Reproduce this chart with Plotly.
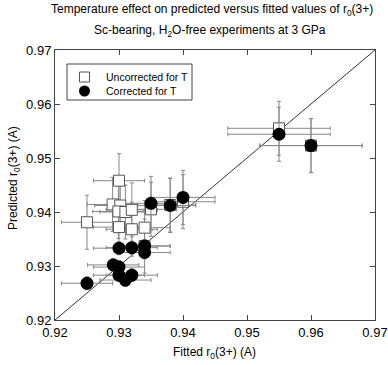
import plotly.graph_objects as go

# Uncorrected for T (open squares)
unc_x = [0.925, 0.930, 0.929, 0.9302, 0.9299, 0.930, 0.931, 0.932, 0.932, 0.934, 0.934, 0.935, 0.938, 0.940, 0.955, 0.960]
unc_y = [0.9381, 0.9458, 0.9414, 0.9412, 0.9401, 0.9372, 0.9400, 0.9404, 0.9368, 0.9371, 0.9337, 0.9405, 0.9413, 0.9419, 0.9555, 0.9523]
unc_xerr = [0.004, 0.004, 0.004, 0.004, 0.004, 0.004, 0.004, 0.004, 0.004, 0.004, 0.004, 0.004, 0.004, 0.005, 0.008, 0.008]
unc_yerr = [0.005, 0.005, 0.005, 0.005, 0.005, 0.005, 0.005, 0.005, 0.005, 0.005, 0.005, 0.005, 0.005, 0.005, 0.005, 0.005]

# Corrected for T (filled circles)
cor_x = [0.925, 0.930, 0.932, 0.934, 0.934, 0.9291, 0.930, 0.930, 0.931, 0.932, 0.935, 0.938, 0.940, 0.955, 0.960]
cor_y = [0.9268, 0.9333, 0.9334, 0.9337, 0.9325, 0.9302, 0.9298, 0.9283, 0.9274, 0.9283, 0.9416, 0.9412, 0.9427, 0.9544, 0.9523]
cor_xerr = [0.004, 0.004, 0.004, 0.004, 0.004, 0.004, 0.004, 0.004, 0.004, 0.004, 0.004, 0.004, 0.005, 0.008, 0.008]
cor_yerr = [0.0012, 0.0012, 0.0012, 0.0012, 0.0012, 0.0012, 0.0012, 0.0012, 0.0012, 0.0012, 0.005, 0.005, 0.005, 0.005, 0.005]

ref_line = [0.92, 0.97]
ticks = [0.92, 0.93, 0.94, 0.95, 0.96, 0.97]
tick_text = ["0.92", "0.93", "0.94", "0.95", "0.96", "0.97"]

title_line1 = "Temperature effect on predicted versus fitted values of r<sub>0</sub>(3+)"
title_line2 = "Sc-bearing, H<sub>2</sub>O-free experiments at 3 GPa"
x_title = "Fitted r<sub>0</sub>(3+) (A)"
y_title = "Predicted r<sub>0</sub>(3+) (A)"
legend_names = ["Uncorrected for T", "Corrected for T"]

FONT = "Liberation Sans, Arial, sans-serif"
ERR_COLOR = "#888888"

fig = go.Figure()

fig.add_trace(go.Scatter(
    x=ref_line, y=ref_line, mode="lines",
    line=dict(color="#333333", width=1), showlegend=False, hoverinfo="skip"))

fig.add_trace(go.Scatter(
    x=unc_x, y=unc_y, mode="markers", name=legend_names[0], showlegend=False,
    marker=dict(symbol="square", size=11, color="white",
                line=dict(color="#555555", width=1)),
    error_x=dict(type="data", array=unc_xerr, color=ERR_COLOR, thickness=1, width=2),
    error_y=dict(type="data", array=unc_yerr, color=ERR_COLOR, thickness=1, width=2)))

fig.add_trace(go.Scatter(
    x=cor_x, y=cor_y, mode="markers", name=legend_names[1], showlegend=False,
    marker=dict(symbol="circle", size=13, color="black",
                line=dict(color="black", width=0)),
    error_x=dict(type="data", array=cor_xerr, color=ERR_COLOR, thickness=1, width=2),
    error_y=dict(type="data", array=cor_yerr, color=ERR_COLOR, thickness=1, width=2)))

axis_common = dict(
    range=[0.92, 0.97], tickvals=ticks, ticktext=tick_text, automargin=False,
    showgrid=False, zeroline=False, showline=True, linecolor="#444444",
    linewidth=1, mirror="allticks", ticks="inside", ticklen=5,
    tickcolor="#444444", tickfont=dict(family=FONT, size=13, color="black"))

# Plot area: x 55..375 px, y 50..320 px
def px(xp):
    return (xp - 55) / 320.0

def py(yp):
    return (320 - yp) / 270.0

shapes = [
    # legend box
    dict(type="rect", xref="paper", yref="paper", x0=px(67), x1=px(192),
         y0=py(100), y1=py(64), line=dict(color="#444444", width=1),
         fillcolor="white", layer="above"),
    # legend square icon
    dict(type="rect", xref="paper", yref="paper", x0=px(79.5), x1=px(89.5),
         y0=py(82), y1=py(72), line=dict(color="#555555", width=1),
         fillcolor="white", layer="above"),
    # legend circle icon
    dict(type="circle", xref="paper", yref="paper", x0=px(79), x1=px(90),
         y0=py(96.5), y1=py(85.5), line=dict(color="black", width=0),
         fillcolor="black", layer="above"),
]

fig.update_layout(
    width=388, height=365,
    margin=dict(l=55, r=13, t=50, b=45, autoexpand=False),
    paper_bgcolor="white", plot_bgcolor="white",
    font=dict(family=FONT, size=12, color="black"),
    xaxis=dict(axis_common),
    yaxis=dict(axis_common),
    showlegend=False,
    shapes=shapes,
    annotations=[
        dict(text=title_line1, xref="paper", yref="paper", x=0.49, y=1.0,
             yshift=40, xanchor="center", yanchor="middle", showarrow=False,
             font=dict(family=FONT, size=12)),
        dict(text=title_line2, xref="paper", yref="paper", x=0.485, y=1.0,
             yshift=19, xanchor="center", yanchor="middle", showarrow=False,
             font=dict(family=FONT, size=12)),
        dict(text=x_title, xref="paper", yref="paper", x=px(214), y=0.0,
             yshift=-33, xanchor="center", yanchor="middle", showarrow=False,
             font=dict(family=FONT, size=12)),
        dict(text=y_title, xref="paper", yref="paper", x=0.0, y=py(178),
             xshift=-41, xanchor="center", yanchor="middle", showarrow=False,
             textangle=-90, font=dict(family=FONT, size=12)),
        dict(text=legend_names[0], xref="paper", yref="paper", x=px(104), y=py(77),
             xanchor="left", yanchor="middle", showarrow=False,
             font=dict(family=FONT, size=10.5)),
        dict(text=legend_names[1], xref="paper", yref="paper", x=px(104), y=py(91),
             xanchor="left", yanchor="middle", showarrow=False,
             font=dict(family=FONT, size=10.5)),
    ],
)

fig.write_html("out.html", config={"displayModeBar": False},
               post_script="document.body.style.margin='0';")
